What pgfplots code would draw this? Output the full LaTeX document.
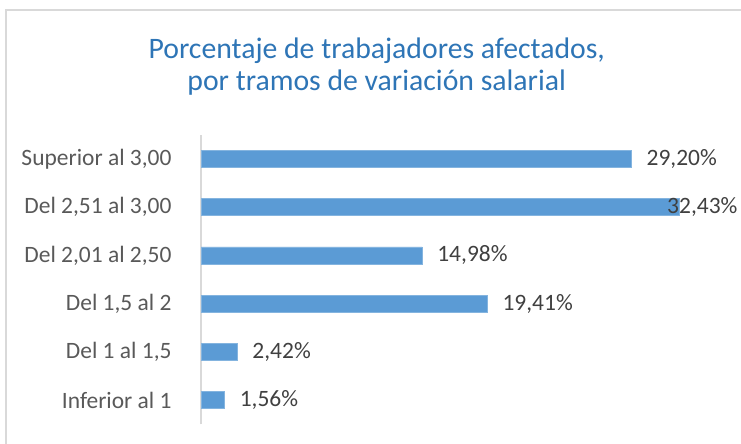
\documentclass[border=0pt]{standalone}
\usepackage{pgfplots}
\usepackage{pgfplotstable}
\pgfplotsset{compat=1.18}
\usepackage{fontspec}
\setmainfont{Carlito}
\definecolor{barblue}{HTML}{5B9BD5}
\definecolor{titleblue}{HTML}{2E75B6}
\definecolor{lbl}{HTML}{404040}
\definecolor{ticklbl}{HTML}{595959}
\definecolor{axgray}{HTML}{D9D9D9}

\pgfplotstableread{
y val sh
0 1.56 11.25
1 2.42 11.25
2 19.41 11.25
3 14.98 11.25
4 32.43 -9
5 29.20 11.25
}\datatab

\begin{document}
\begin{tikzpicture}
\useasboundingbox (-151.1pt,-13.95pt) rectangle (404.6pt,318.3pt);
\draw[axgray,line width=1.2pt] (-146.6pt,-20pt) -- (-146.6pt,310.8pt) -- (410pt,310.8pt);
\node[font=\fontsize{22.3}{24}\selectfont, text=titleblue, align=center] at (131.4pt,268pt) {Porcentaje de trabajadores afectados,\\por tramos de variación salarial};
\begin{axis}[
  at={(0,0)}, anchor=south west, scale only axis,
  width=386.4pt, height=217.35pt,
  xmin=0, xmax=35, ymin=-0.5, ymax=5.5,
  xbar, bar width=12.75pt,
  axis x line=none,
  axis y line*=left,
  y axis line style={draw=axgray, line width=1.5pt, -},
  ytick={0,1,2,3,4,5},
  yticklabels={{Inferior al 1},{Del 1 al 1,5},{Del 1,5 al 2},{Del 2,01 al 2,50},{Del 2,51 al 3,00},{Superior al 3,00}},
  ytick style={draw=none},
  yticklabel style={font=\fontsize{17.6}{20}\selectfont, text=ticklbl, inner sep=0pt, xshift=-18pt},
  clip=false,
  /pgf/number format/assume math mode=true,
  point meta=x,
  visualization depends on={\thisrow{sh} \as \sh},
  nodes near coords={\pgfmathprintnumber[fixed,fixed zerofill,precision=2,use comma]{\pgfplotspointmeta}\%},
  every node near coord/.append style={font=\fontsize{17.6}{20}\selectfont, text=lbl, anchor=west, inner sep=0pt, xshift=\sh pt},
]
\addplot[fill=barblue, draw=barblue!75!white, line width=0.5pt] table[x=val,y=y]{\datatab};
\end{axis}
\end{tikzpicture}
\end{document}
